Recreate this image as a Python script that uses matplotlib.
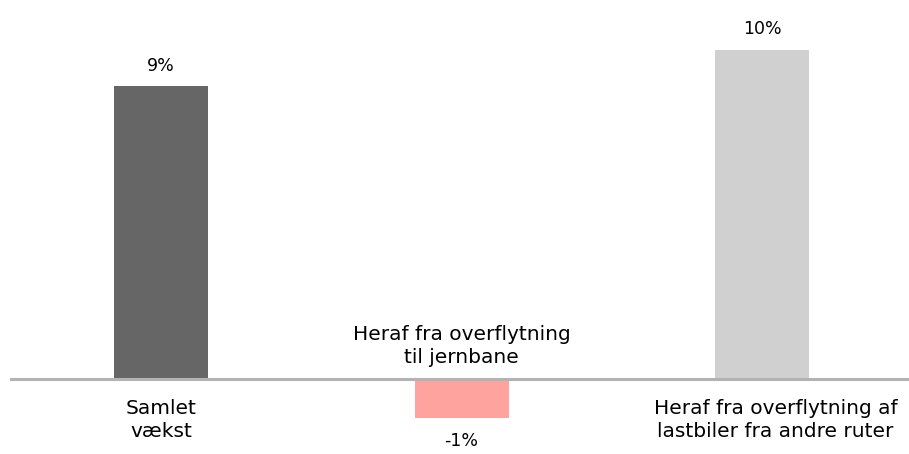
import numpy as np
import matplotlib.pyplot as plt

# Chart data
categories = ['Samlet\nvækst',
              'Heraf fra overflytning\ntil jernbane',
              'Heraf fra overflytning af\nlastbiler fra andre ruter']
values = [8.9, -1.2, 10.0]
value_labels = ['9%', '-1%', '10%']
colors = ['#666666', '#ffa39e', '#d0d0d0']

plt.rcParams['font.family'] = ['DejaVu Sans']

fig = plt.figure(figsize=(9.09, 4.54), dpi=100)
ax = fig.add_axes([0, 0, 1, 1])

x = np.arange(len(values))
ax.bar(x, values, width=0.313, color=colors, zorder=2)
ax.axhline(0, xmin=0.012, xmax=1, color='#b3b3b3', linewidth=2.2, zorder=3)

# value labels
for xi, v, lab in zip(x, values, value_labels):
    if v >= 0:
        ax.text(xi, v + 0.35, lab, ha='center', va='bottom', fontsize=12.5)
    else:
        ax.text(xi, v - 0.4, lab, ha='center', va='top', fontsize=12.5)

# category labels
ax.text(x[0], -0.6, categories[0], ha='center', va='top', fontsize=14.5, linespacing=1.3)
ax.text(x[1], 0.35, categories[1], ha='center', va='bottom', fontsize=14.5, linespacing=1.3)
ax.text(x[2] + 0.045, -0.6, categories[2], ha='center', va='top', fontsize=14.5, linespacing=1.3)

ax.set_xlim(-0.536, 2.489)
ax.set_ylim(-2.28, 11.52)
ax.axis('off')

fig.savefig('out.png', dpi=100)
